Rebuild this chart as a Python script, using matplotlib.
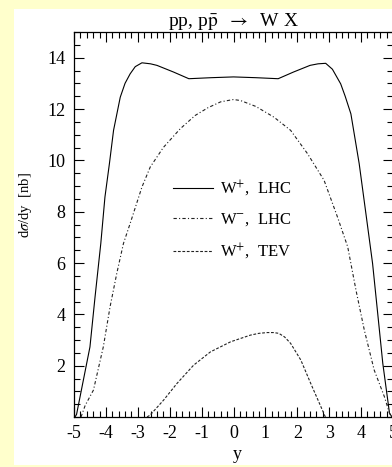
import matplotlib
matplotlib.use("Agg")
import matplotlib.pyplot as plt
from matplotlib.patches import Rectangle
from matplotlib.ticker import MultipleLocator

plt.rcParams['font.family'] = ['Liberation Serif', 'DejaVu Serif']
plt.rcParams['mathtext.fontset'] = 'stix'
plt.rcParams['axes.unicode_minus'] = False

# W+ at LHC (solid)
y_wp_lhc = [-4.97, -4.92, -4.50, -4.34, -4.16, -4.03, -3.89, -3.76, -3.55, -3.40, -3.24,
            -3.08, -2.87, -2.60, -2.40, -1.88, -1.40, -0.70, 0.0, 0.70, 1.40, 1.88, 2.40,
            2.65, 2.89, 3.10, 3.36, 3.50, 3.68, 3.94, 4.15, 4.36, 4.52, 4.68, 4.89, 4.97]
s_wp_lhc = [0.0, 0.1, 2.73, 4.68, 6.76, 8.57, 9.87, 11.17, 12.46, 13.0, 13.37,
            13.65, 13.80, 13.76, 13.70, 13.44, 13.18, 13.22, 13.25, 13.22, 13.18, 13.44, 13.70,
            13.76, 13.78, 13.55, 12.98, 12.5, 11.81, 9.87, 7.93, 5.98, 4.04, 2.09, 0.15, 0.0]

# W- at LHC (dash-dot)
y_wm_lhc = [-4.78, -4.65, -4.39, -4.08, -3.87, -3.66, -3.45, -3.24, -2.87, -2.61, -2.20,
            -1.67, -1.20, -0.80, -0.40, 0.0, 0.22, 0.70, 1.27, 1.79, 2.32, 2.84, 3.26,
            3.58, 3.84, 4.10, 4.41, 4.73, 4.89, 4.95]
s_wm_lhc = [0.0, 0.45, 1.05, 2.74, 4.29, 5.59, 6.76, 7.54, 8.96, 9.74, 10.5,
            11.23, 11.75, 12.05, 12.28, 12.37, 12.33, 12.1, 11.68, 11.17, 10.26, 9.22, 7.79,
            6.63, 4.94, 3.39, 1.83, 0.79, 0.15, 0.0]

# W+ at Tevatron (dashed)
y_wp_tev = [-2.71, -2.61, -2.19, -1.77, -1.25, -0.72, -0.09, 0.53, 0.80, 1.06, 1.25,
            1.42, 1.60, 1.79, 2.11, 2.42, 2.74, 2.88]
s_wp_tev = [0.0, 0.08, 0.66, 1.31, 2.02, 2.54, 2.93, 3.19, 3.26, 3.29, 3.29,
            3.26, 3.12, 2.87, 2.22, 1.31, 0.40, 0.0]

W, H = 392, 467
fig = plt.figure(figsize=(W / 100, H / 100), dpi=100)
fig.patch.set_facecolor('#ffffcc')
fig.patches.append(Rectangle((14 / W, 2 / H), 1 - 14 / W, 456 / H,
                             transform=fig.transFigure, facecolor='white',
                             edgecolor='none', zorder=-5))

ax = fig.add_axes([74 / W, 50 / H, 319 / W, 385 / H])
ax.set_facecolor('white')

ax.plot(y_wp_lhc, s_wp_lhc, color='black', lw=0.8, label='W$^{+}$,  LHC')
ax.plot(y_wm_lhc, s_wm_lhc, color='#222222', lw=0.8, dashes=(3, 2, 1, 2),
        label='W$^{-}$,  LHC')
ax.plot(y_wp_tev, s_wp_tev, color='#222222', lw=0.8, dashes=(2.5, 1.5),
        label='W$^{+}$,  TEV')

ax.set_xlim(-5, 5)
ax.set_ylim(0, 15)
ax.xaxis.set_major_locator(MultipleLocator(1))
ax.xaxis.set_minor_locator(MultipleLocator(0.2))
ax.yaxis.set_major_locator(MultipleLocator(2))
ax.yaxis.set_minor_locator(MultipleLocator(0.5))
ax.set_yticks([2, 4, 6, 8, 10, 12, 14])
ax.tick_params(which='both', direction='in', top=True, right=True, width=0.8,
               labelsize=13)
ax.tick_params(which='major', length=7, pad=6)
ax.tick_params(which='minor', length=4)
for sp in ax.spines.values():
    sp.set_linewidth(0.9)

ax.set_title(r'pp, p$\bar{\mathrm{p}}$  $\rightarrow$  W X', fontsize=14, pad=2)
ax.set_xlabel('y', fontsize=13)
ax.xaxis.set_label_coords(0.513, -0.075)
ax.set_ylabel(r'd$\sigma$/dy  [nb]', fontsize=10.5)
ax.yaxis.set_label_coords(-0.125, 0.55)

ax.legend(loc='upper left', bbox_to_anchor=(0.31, 0.62), frameon=False,
          fontsize=12, handlelength=2.4, handletextpad=0.4, labelspacing=0.78,
          borderpad=0, borderaxespad=0)

fig.savefig('out.png', dpi=100, facecolor=fig.get_facecolor())
